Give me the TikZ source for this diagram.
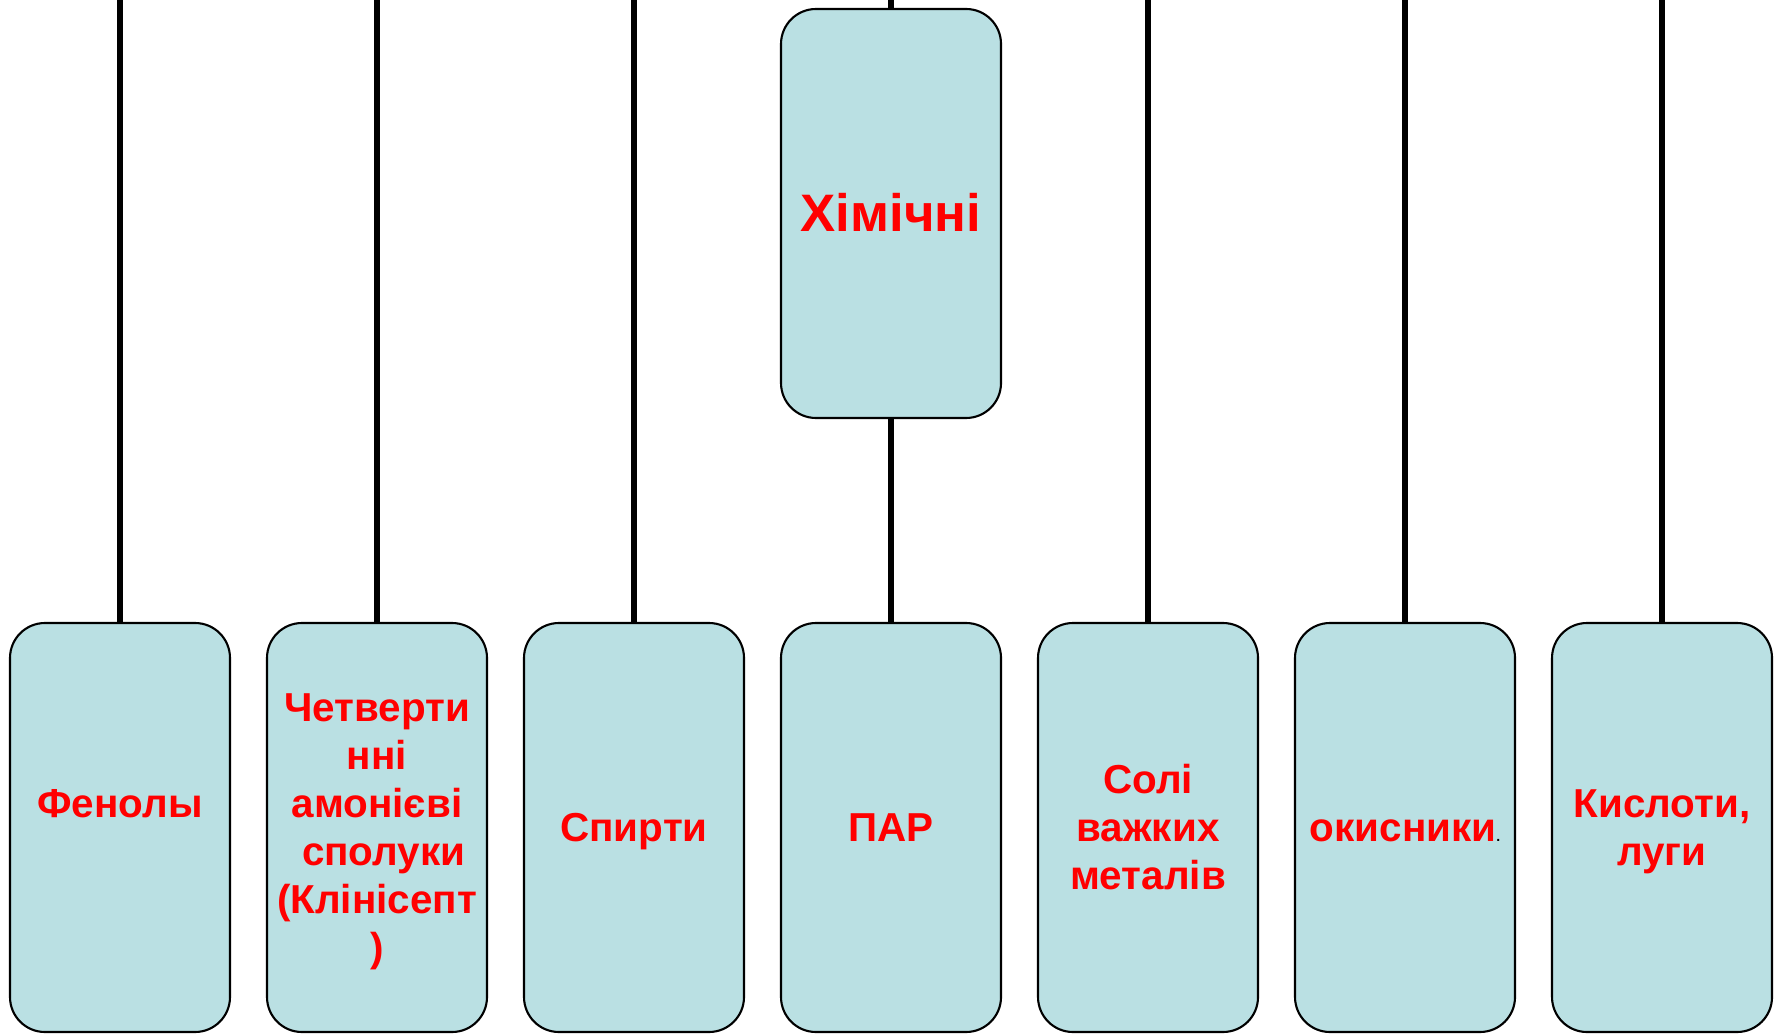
\documentclass[tikz,border=0pt]{standalone}
\usepackage{fontspec}
\setmainfont{Liberation Sans}
\usepackage{xcolor}
\usetikzlibrary{positioning}
\definecolor{boxfill}{RGB}{186,224,227}

\begin{document}
\begin{tikzpicture}[node distance=2.57cm,
		main node/.style={draw=black,line width=0.6pt,fill=boxfill,rounded corners=0.35cm,
			minimum width=2.2cm,minimum height=4.09cm,inner sep=0pt,outer sep=0pt,
			text width=2.2cm,align=center,text=red,
			font=\fontsize{11.5pt}{13.7pt}\selectfont\bfseries,
			execute at begin node=\rule{0pt}{0.905em},
			execute at end node=\rule[-0.212em]{0pt}{0pt}},
		head node/.style={main node,font=\fontsize{15pt}{18pt}\selectfont\bfseries},
		link/.style={every edge/.append style={draw=black,line width=1.6pt}}]
	
	\useasboundingbox (0,0) rectangle (17.79,10.33);
	\coordinate (top) at (0,10.33);
	
	\node[main node] (fen) at (1.20,2.055) {Фенолы\\\mbox{}};
	\node[main node] (chet) [right of=fen] {Четверти\\нні\\амонієві\\\mbox{}\ сполуки\\(Клінісепт\\)};
	\node[main node] (spyr) [right of=chet] {Спирти};
	\node[main node] (par) [right of=spyr] {ПАР};
	\node[main node] (soli) [right of=par] {Солі\\важких\\металів};
	\node[main node] (okys) [right of=soli] {окисники{\fontsize{4pt}{4pt}\selectfont\color{black}.}};
	\node[main node] (kysl) [right of=okys] {Кислоти,\\луги};
	\node[head node] (khim) [above of=par,node distance=6.14cm] {Хімічні};
	
	\path[link]
	(fen |- top) edge (fen)
	(chet |- top) edge (chet)
	(spyr |- top) edge (spyr)
	(khim |- top) edge (khim)
	(khim) edge (par)
	(soli |- top) edge (soli)
	(okys |- top) edge (okys)
	(kysl |- top) edge (kysl)
	;
\end{tikzpicture}
\end{document}
